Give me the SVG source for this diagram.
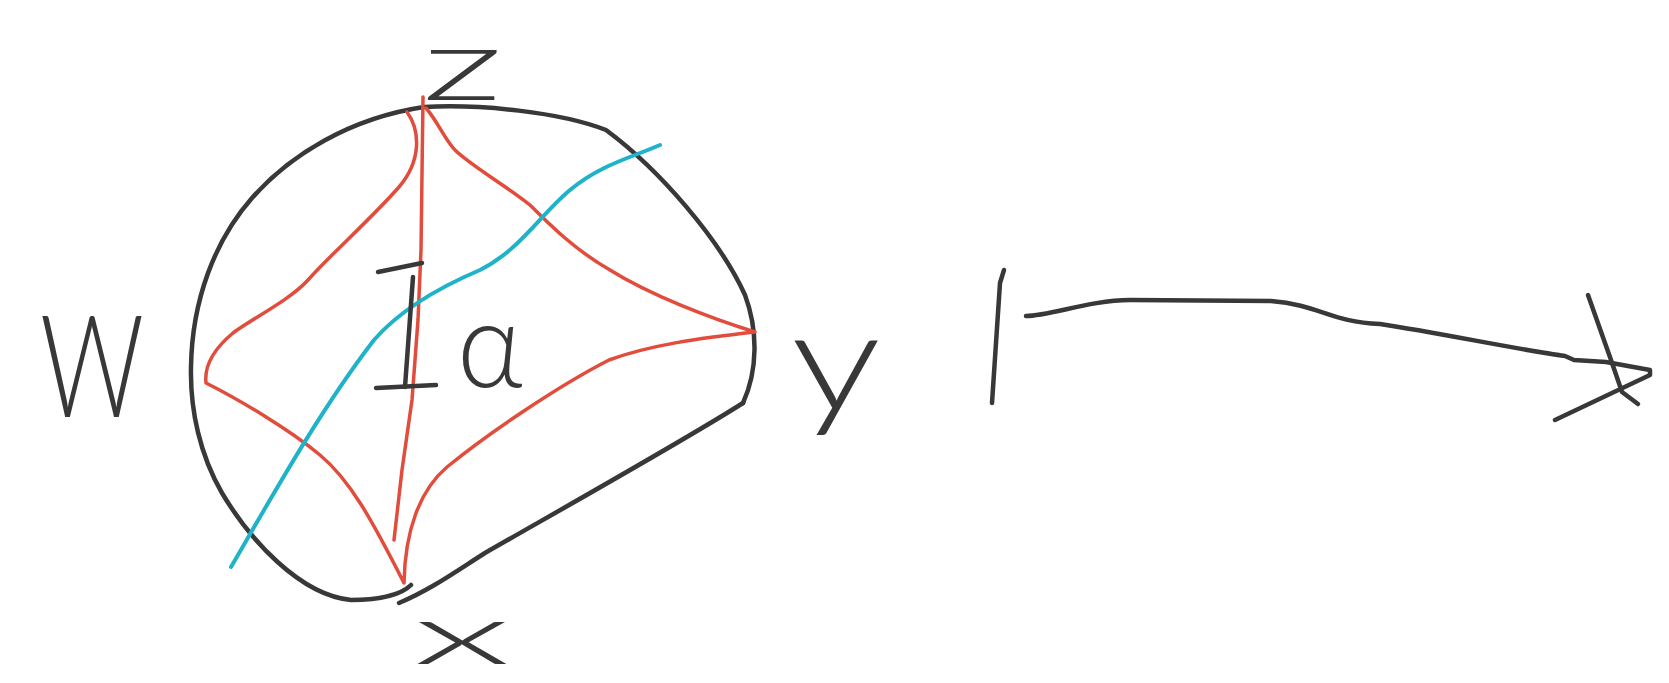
<svg xmlns="http://www.w3.org/2000/svg" width="1669" height="683" viewBox="0 0 1669 683">
<style>
.ink{fill:none;stroke:#383838;stroke-width:4.5;stroke-linecap:round;stroke-linejoin:round}
.red{fill:none;stroke:#e24c3c;stroke-width:3.5;stroke-linecap:round;stroke-linejoin:round}
.cyan{fill:none;stroke:#1fb3c9;stroke-width:4;stroke-linecap:round;stroke-linejoin:round}
.lbl{font-family:"Lato","Liberation Sans",sans-serif;font-weight:300;fill:#383838}
</style>
<rect width="1669" height="683" fill="#ffffff"/>
<g id="outline">
<path class="ink" d="M411,585 C400,596 375,600 351,600 C300,595 250,540 222,493 C200,455 190,410 191,367 C192,300 215,240 252,198 C290,155 350,118 424,107 C480,104 560,112 606,130 C660,170 720,240 745,295 C758,330 758,370 743,403"/>
<path class="ink" d="M743,403 C690,437 560,510 485,553 C455,572 430,590 399,603"/>
</g>
<g id="astroid">
<path class="red" d="M407,112 C420,130 422,160 399,187 C370,220 330,255 308,280 C290,300 250,320 233,333 C215,348 204,365 206,383 C240,400 290,430 320,455 C350,480 372,520 404,583 C405,530 420,490 447,467 C490,432 560,385 609,360 C650,345 700,338 755,332 C710,318 650,295 610,270 C575,250 550,225 530,205 C505,185 470,165 455,150 C445,140 438,122 426,108"/>
<path class="red" d="M423,97 L421,250 L418,320 L412,400 L402,470 L394,540"/>
</g>
<g id="cyan-curve">
<path class="cyan" d="M231,567 C270,500 320,410 374,340 C400,310 440,287 480,270 C520,250 540,215 570,190 C600,165 630,158 660,145"/>
</g>
<g id="interval-marker">
<path class="ink" d="M378,272 L422,263"/>
<path class="ink" d="M413,277 L405,387"/>
<path class="ink" d="M376,388 L436,385"/>
</g>
<g id="label-z"><text class="lbl" x="422" y="100" font-size="100" textLength="81" lengthAdjust="spacingAndGlyphs">z</text></g>
<g id="label-w"><text class="lbl" x="40" y="417" font-size="143" textLength="104" lengthAdjust="spacingAndGlyphs">W</text></g>
<g id="label-y"><text class="lbl" x="791" y="410" font-size="140" textLength="90" lengthAdjust="spacingAndGlyphs">y</text></g>
<g id="label-x"><text class="lbl" x="413" y="664" font-size="85" textLength="98" lengthAdjust="spacingAndGlyphs">x</text></g>
<g id="label-alpha"><text class="lbl" x="457" y="387" font-size="120" textLength="66" lengthAdjust="spacingAndGlyphs">α</text></g>
<g id="bar">
<path class="ink" d="M1004,270 L1000,283 L992,403"/>
</g>
<g id="connectors">
<path class="ink" d="M1026,316 C1050,316 1090,300 1130,300 L1271,301 C1320,305 1330,322 1380,324 C1440,333 1520,350 1565,356 L1574,360 L1606,362 L1650,370 L1650,375 L1555,420"/>
<path class="ink" d="M1588,295 L1611,360 L1622,392 L1638,404"/>
</g>
</svg>
